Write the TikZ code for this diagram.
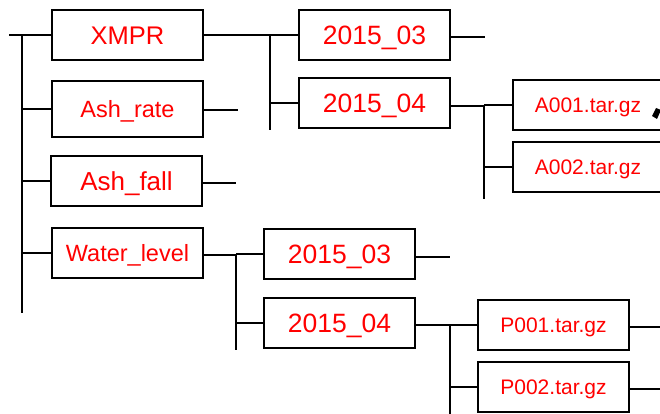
\documentclass[tikz,border=0pt]{standalone}
\usepackage{fontspec}
\setmainfont{Liberation Sans}
\begin{document}
\begin{tikzpicture}[x=1pt,y=-1pt,
  box/.style={draw=black,line width=1.6pt,minimum width=151pt,minimum height=50pt,inner sep=0pt,text=red,text depth=0pt},
  conn/.style={draw=black,line width=1.6pt},
  fA/.style={font=\fontsize{25.5}{28}\selectfont,text height=18.6pt},
  fB/.style={font=\fontsize{26.5}{29}\selectfont,text height=19pt},
  fC/.style={font=\fontsize{23.5}{26}\selectfont,text height=16.8pt},
  fD/.style={font=\fontsize{26}{29}\selectfont,text height=18.6pt},
  fE/.style={font=\fontsize{21}{24}\selectfont,text height=15pt}]
\useasboundingbox (0,0) rectangle (660,414);
% nodes
\node[box,fA] (xmpr) at (127.5,35) {XMPR};
\node[box,fC,minimum height=56pt] (ashrate) at (127.5,109) {Ash\_rate};
\node[box,fD] (ashfall) at (126.5,181) {Ash\_fall};
\node[box,fC] (water) at (127.5,253) {Water\_level};
\node[box,fB] (a03) at (374.5,35) {2015\_03};
\node[box,fB] (a04) at (374.5,103) {2015\_04};
\node[box,fE,minimum width=150pt] (a001) at (588,105) {A001.tar.gz};
\node[box,fE,minimum width=150pt] (a002) at (588,167) {A002.tar.gz};
\node[box,fB] (b03) at (339.5,254) {2015\_03};
\node[box,fB] (b04) at (339.5,323) {2015\_04};
\node[box,fE] (p001) at (553.5,325) {P001.tar.gz};
\node[box,fE] (p002) at (553.5,387) {P002.tar.gz};
% coordinates
\coordinate (rstub) at (9,35);
\coordinate (rtop) at (22,35);
\coordinate (rbot) at (22,313);
\coordinate (ja) at (270,35);
\coordinate (jabot) at (270,130);
\coordinate (jb) at (484,106);
\coordinate (jbbot) at (484,199);
\coordinate (jc) at (236,255);
\coordinate (jcbot) at (236,350);
\coordinate (jd) at (450,325);
\coordinate (jdbot) at (450,414);
\coordinate (e1) at (238,110);
\coordinate (e2) at (236,183);
\coordinate (e3) at (485,37);
\coordinate (e4) at (450,257);
\coordinate (e5) at (660,327);
\coordinate (e6) at (660,389);
% root tree
\draw[conn] (rstub) -- (xmpr.west);
\draw[conn] (rtop) -- (rbot);
\draw[conn] (ashrate.west -| rtop) -- (ashrate.west);
\draw[conn] (ashfall.west -| rtop) -- (ashfall.west);
\draw[conn] (water.west -| rtop) -- (water.west);
\draw[conn] (ashrate.east |- e1) -- (e1);
\draw[conn] (ashfall.east |- e2) -- (e2);
% XMPR subtree
\draw[conn] (xmpr.east) -- (ja);
\draw[conn] (ja) -- (jabot);
\draw[conn] (ja) -- (a03.west);
\draw[conn] (a04.west -| ja) -- (a04.west);
\draw[conn] (a03.east |- e3) -- (e3);
\draw[conn] (a04.east |- jb) -- (jb);
\draw[conn] (jb) -- (jbbot);
\draw[conn] (a001.west -| jb) -- (a001.west);
\draw[conn] (a002.west -| jb) -- (a002.west);
% Water_level subtree
\draw[conn] (water.east |- jc) -- (jc);
\draw[conn] (jc) -- (jcbot);
\draw[conn] (b03.west -| jc) -- (b03.west);
\draw[conn] (b04.west -| jc) -- (b04.west);
\draw[conn] (b03.east |- e4) -- (e4);
\draw[conn] (b04.east |- jd) -- (jd);
\draw[conn] (jd) -- (jdbot);
\draw[conn] (p001.west -| jd) -- (p001.west);
\draw[conn] (p002.west -| jd) -- (p002.west);
\draw[conn] (p001.east |- e5) -- (e5);
\draw[conn] (p002.east |- e6) -- (e6);
% clipped mark at right edge
\fill[black] (652,116) -- (656,108) -- (661,110) -- (657,119) -- cycle;
\end{tikzpicture}
\end{document}
